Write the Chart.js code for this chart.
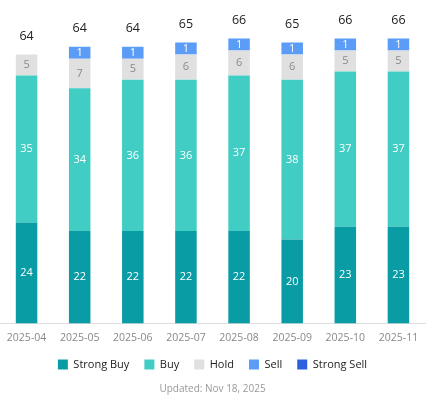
<!DOCTYPE html>
<html><head><meta charset="utf-8">
<script src="https://cdn.jsdelivr.net/npm/chart.js@4.4.0/dist/chart.umd.min.js"></script>
<style>html,body{margin:0;padding:0;background:#fff}#wrap{width:428px;height:398px;position:relative}</style>
</head><body><div id="wrap"><canvas id="c"></canvas></div>
<script>
const categories = ['2025-04','2025-05','2025-06','2025-07','2025-08','2025-09','2025-10','2025-11'];
const strongBuy = [24,22,22,22,22,20,23,23];
const buy = [35,34,36,36,37,38,37,37];
const hold = [5,7,5,6,6,6,5,5];
const sell = [0,1,1,1,1,1,1,1];
const strongSell = [0,0,0,0,0,0,0,0];
const seriesNames = ['Strong Buy','Buy','Hold','Sell','Strong Sell'];
const seriesColors = ['#0a9ca4','#42cdc4','#e0e0e0','#5b9cf6','#2a5fe0'];
const labelColors = ['#ffffff','#ffffff','#8a8a8a','#ffffff','#ffffff'];
const FONT = "'Open Sans', 'Noto Sans', sans-serif";

const labelPlugin = {
  id: 'labels',
  afterDatasetsDraw(chart) {
    const ctx = chart.ctx;
    ctx.save();
    ctx.textAlign = 'center';
    ctx.textBaseline = 'middle';
    const n = chart.data.labels.length;
    const tops = new Array(n).fill(Infinity);
    chart.data.datasets.forEach((ds, di) => {
      const meta = chart.getDatasetMeta(di);
      meta.data.forEach((bar, i) => {
        const v = ds.data[i];
        if (!v) return;
        tops[i] = Math.min(tops[i], bar.y);
        ctx.font = "11px " + FONT;
        ctx.fillStyle = labelColors[di];
        ctx.fillText(String(v), bar.x, (bar.y + bar.base) / 2);
      });
    });
    for (let i = 0; i < n; i++) {
      let total = 0;
      chart.data.datasets.forEach(ds => total += (ds.data[i] || 0));
      const x = chart.getDatasetMeta(0).data[i].x;
      ctx.font = "12.5px " + FONT;
      ctx.fillStyle = '#222';
      ctx.fillText(String(total), x, tops[i] - 18);
    }
    ctx.restore();
  }
};

const allData = [strongBuy, buy, hold, sell, strongSell];
new Chart(document.getElementById('c'), {
  type: 'bar',
  data: {
    labels: categories,
    datasets: allData.map((d, k) => ({
      label: seriesNames[k], data: d.map(v => v === 0 ? null : v), backgroundColor: seriesColors[k],
      borderWidth: 0, barPercentage: 0.405, categoryPercentage: 1,
      minBarLength: k >= 3 ? 12 : 0
    }))
  },
  options: {
    responsive: true, maintainAspectRatio: false, animation: false,
    layout: { padding: { left: 0, right: 3, top: 0, bottom: 3 } },
    scales: {
      x: { stacked: true, grid: { display: false }, border: { color: '#dddddd' },
           ticks: { color: '#888', font: { family: FONT, size: 10.5 }, padding: 0 } },
      y: { stacked: true, display: false, min: 0, max: 77 }
    },
    plugins: {
      tooltip: { enabled: false },
      legend: { position: 'bottom',
        labels: { boxWidth: 10, boxHeight: 10, padding: 15, color: '#222', font: { family: FONT, size: 11 } } },
      subtitle: { display: true, text: 'Updated: Nov 18, 2025', position: 'bottom', color: '#999',
        font: { family: FONT, size: 10, weight: 'normal' }, padding: { top: 3, bottom: 0 } }
    }
  },
  plugins: [labelPlugin]
});
</script></body></html>
